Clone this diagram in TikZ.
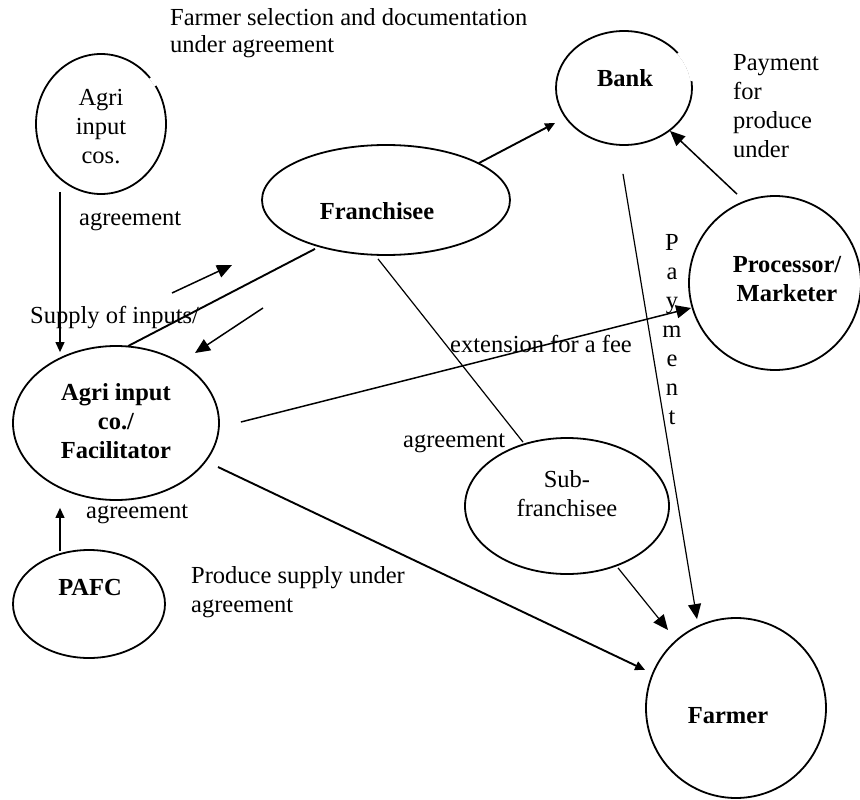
\documentclass[tikz,border=0pt]{standalone}
\usepackage{fontspec}
\setmainfont{Liberation Serif}
\usetikzlibrary{shapes.geometric,arrows.meta,calc}
\begin{document}
\begin{tikzpicture}[x=1pt,y=-1pt,
  ent/.style={draw, ellipse, line width=1.8pt, inner sep=0pt},
  txt/.style={inner sep=0pt, font=\fontsize{24.5}{29}\selectfont},
  ctxt/.style={txt, align=center},
  btxt/.style={inner sep=0pt, align=center, font=\fontsize{24.5}{29}\selectfont\bfseries},
  thinline/.style={line width=1.2pt},
  midline/.style={line width=1.5pt},
  thickline/.style={line width=1.9pt},
  bigtip/.style={-{Triangle[length=15pt,width=13pt]}},
  smalltip/.style={-{Triangle[length=10pt,width=9pt]}},
  gap/.style={white, line width=4pt},
]
\useasboundingbox (0,0) rectangle (860,800);

% entities
\node[ent, minimum width=130pt, minimum height=140pt] (cos) at (101,124) {};
\node[ent, minimum width=248pt, minimum height=110pt] (franch) at (386,200) {};
\node[ent, minimum width=136pt, minimum height=114pt] (bank) at (624,88) {};
\node[ent, minimum width=172pt, minimum height=174pt] (proc) at (775,283) {};
\node[ent, minimum width=206pt, minimum height=154pt] (facil) at (116,423) {};
\node[ent, minimum width=152pt, minimum height=108pt] (pafc) at (89,604) {};
\node[ent, minimum width=204pt, minimum height=136pt] (sub) at (567,506) {};
\node[ent, minimum width=180pt, minimum height=180pt] (farmer) at (736,708) {};

% breaks in two outlines
\draw[gap] (cos.35) -- (cos.39) -- (cos.43);
\draw[gap] (bank.6) -- (bank.12) -- (bank.18) -- (bank.24) -- (bank.30) -- (bank.33);

% entity names
\node[ctxt] (cos-t) at (101,127) {Agri\\input\\cos.};
\node[btxt] (franch-t) at (377,211) {Franchisee};
\node[btxt] (bank-t) at (625,78) {Bank};
\node[btxt] (proc-t) at (787,279) {Processor/\\Marketer};
\node[btxt] (facil-t) at (116,421) {Agri input\\co./\\Facilitator};
\node[btxt] (pafc-t) at (90,588) {PAFC};
\node[ctxt] (sub-t) at (567,494) {Sub-\\franchisee};
\node[btxt] (farmer-t) at (728,716) {Farmer};

% relation labels
\node[txt, anchor=base west] (l1) at (170,26) {Farmer selection and documentation};
\node[txt, anchor=base west] (l2) at (170,53) {under agreement};
\node[txt, anchor=base west] (l3) at (79,225) {agreement};
\node[txt, anchor=base west] (l4) at (30,323) {Supply of inputs/};
\node[txt, anchor=base west] (l5) at (450,352) {extension for a fee};
\node[txt, anchor=base west] (l6) at (403,447) {agreement};
\node[txt, anchor=base west] (l7) at (86,518) {agreement};
\node[txt, anchor=base west] (l8) at (191,583) {Produce supply under};
\node[txt, anchor=base west] (l9) at (191,612) {agreement};
\node[txt, anchor=north west, align=left] (l10) at (733,54) {Payment\\for\\produce\\under};
\node[txt, anchor=north, align=center] (l11) at (672,234) {P\\a\\y\\m\\e\\n\\t};

% connectors
\draw[thinline, smalltip] ($(cos.south)+(-41,-3)$) -- ($(facil.north)+(-56,7)$);
\draw[thinline, smalltip] ($(pafc.north)+(-29,2)$) -- ($(facil.south)+(-56,7)$);
\draw[thickline] ($(franch.south)+(-71,-7)$) -- ($(facil.north)+(12,1)$);
\draw[thickline, smalltip] ($(franch.center)+(93,-37)$) -- ($(bank.west)+(0,35)$);
\draw[midline, bigtip] ($(proc.north)+(-38,-1)$) -- ($(bank.south)+(46,-15)$);
\draw[thinline, bigtip] ($(bank.south)+(-1,28)$) -- ($(farmer.north)+(-39,2)$);
\draw[thinline] ($(franch.south)+(-8,3)$) -- ($(sub.north)+(-44,5)$);
\draw[midline, bigtip] ($(facil.east)+(21,-1)$) -- ($(proc.west)+(3,25)$);
\draw[thickline, smalltip] ($(facil.center)+(102,44)$) -- ($(farmer.west)+(0,-38)$);
\draw[thinline, bigtip] ($(sub.south)+(51,-7)$) -- ($(farmer.center)+(-68,-78)$);

% flow markers beside the franchise link
\coordinate (up-s) at (172,293);
\coordinate (up-e) at (232,265);
\coordinate (dn-s) at (263,308);
\coordinate (dn-e) at (195,353);
\draw[midline, bigtip] (up-s) -- (up-e);
\draw[midline, bigtip] (dn-s) -- (dn-e);
\end{tikzpicture}
\end{document}
